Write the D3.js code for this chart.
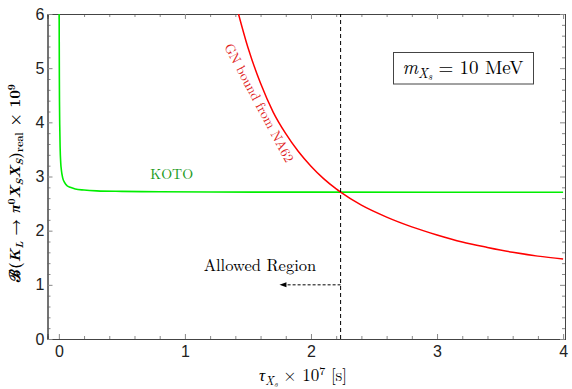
<!DOCTYPE html>
<html>
<head>
<meta charset="utf-8">
<script src="https://cdn.jsdelivr.net/npm/d3@7"></script>
<style>
  body { margin: 0; background: #fff; }
  svg { display: block; }
</style>
</head>
<body>
<svg id="chart" width="572" height="389"></svg>
<script>
// KOTO curve (tau in 1e-7 s, branching ratio x 1e9)
const kotoTau = [0.0025, 0.003, 0.004, 0.005, 0.007, 0.01, 0.015, 0.02, 0.03, 0.045, 0.065, 0.09, 0.13, 0.2, 0.3, 0.5, 0.8, 1.2, 2, 3, 4]
const kotoBr  = [6.0, 5.55, 4.85, 4.4, 3.95, 3.55, 3.25, 3.12, 2.98, 2.89, 2.83, 2.8, 2.77, 2.75, 2.735, 2.725, 2.718, 2.714, 2.711, 2.71, 2.71]

// GN bound from NA62
const naTau = [1.425, 1.5, 1.6, 1.7, 1.8, 1.9, 2.0, 2.1, 2.2, 2.235, 2.4, 2.6, 2.8, 3.0, 3.2, 3.4, 3.6, 3.8, 4.0]
const naBr  = [6.0, 5.38, 4.72, 4.19, 3.79, 3.46, 3.19, 2.96, 2.77, 2.71, 2.47, 2.25, 2.07, 1.92, 1.79, 1.69, 1.60, 1.53, 1.475]

const xTicks = [0, 1, 2, 3, 4]
const yTicks = [0, 1, 2, 3, 4, 5, 6]
const tauCross = 2.235
const arrowTip = 1.75
const arrowLevel = 1.0

const mLeft = 47.5, mRight = 565, mTop = 14, mBottom = 339

const x = d3.scaleLinear().domain([-0.09, 4.015]).range([mLeft, mRight])
const y = d3.scaleLinear().domain([0, 6]).range([mBottom, mTop])

const svg = d3.select('#chart')

svg.append('clipPath').attr('id', 'clip')
  .append('rect')
  .attr('x', mLeft).attr('y', mTop)
  .attr('width', mRight - mLeft).attr('height', mBottom - mTop)

const xMinor = d3.range(0, 4.01, 0.2).filter(v => Math.abs(v - Math.round(v)) > 1e-6)
const yMinor = d3.range(0, 6.01, 0.2).filter(v => Math.abs(v - Math.round(v)) > 1e-6)

function frameAxis(axis, tx, ty) {
  const g = svg.append('g').attr('transform', `translate(${tx},${ty})`).call(axis)
  g.select('.domain').attr('stroke', '#444')
  g.selectAll('.tick line').attr('stroke', '#888')
  g.selectAll('.tick text')
    .attr('font-family', '"Liberation Sans", Arial, sans-serif')
    .attr('font-size', 16)
    .attr('fill', '#222')
  return g
}

// minor ticks
frameAxis(d3.axisBottom(x).tickValues(xMinor).tickSize(-3).tickFormat(''), 0, mBottom)
frameAxis(d3.axisTop(x).tickValues(xMinor).tickSize(-3).tickFormat(''), 0, mTop)
frameAxis(d3.axisLeft(y).tickValues(yMinor).tickSize(-3).tickFormat(''), mLeft, 0)
frameAxis(d3.axisRight(y).tickValues(yMinor).tickSize(-3).tickFormat(''), mRight, 0)

// major ticks
frameAxis(d3.axisBottom(x).tickValues(xTicks).tickSize(-5).tickPadding(7).tickFormat(d3.format('d')), 0, mBottom)
frameAxis(d3.axisTop(x).tickValues(xTicks).tickSize(-5).tickFormat(''), 0, mTop)
frameAxis(d3.axisLeft(y).tickValues(yTicks).tickSize(-5).tickPadding(3).tickFormat(d3.format('d')), mLeft, 0)
frameAxis(d3.axisRight(y).tickValues(yTicks).tickSize(-5).tickFormat(''), mRight, 0)

const line = d3.line()
  .x(d => x(d[0]))
  .y(d => y(d[1]))
  .curve(d3.curveMonotoneX)

const plot = svg.append('g').attr('clip-path', 'url(#clip)')

plot.append('path')
  .datum(kotoTau.map((t, i) => [t, kotoBr[i]]))
  .attr('d', line)
  .attr('fill', 'none')
  .attr('stroke', '#00ee00')
  .attr('stroke-width', 1.6)

plot.append('path')
  .datum(naTau.map((t, i) => [t, naBr[i]]))
  .attr('d', line)
  .attr('fill', 'none')
  .attr('stroke', '#ff0000')
  .attr('stroke-width', 1.5)

// dashed vertical line at the crossing
plot.append('line')
  .attr('x1', x(tauCross)).attr('x2', x(tauCross))
  .attr('y1', y(0)).attr('y2', y(6))
  .attr('stroke', '#000')
  .attr('stroke-width', 1)
  .attr('stroke-dasharray', '4,3')

// allowed region arrow
svg.append('line')
  .attr('x1', x(tauCross)).attr('x2', x(arrowTip) + 5)
  .attr('y1', y(arrowLevel)).attr('y2', y(arrowLevel))
  .attr('stroke', '#000')
  .attr('stroke-width', 1)
  .attr('stroke-dasharray', '3,2')

svg.append('path')
  .attr('d', `M${x(arrowTip)},${y(arrowLevel)} l7,-2.5 l0,5 z`)
  .attr('fill', '#000')

const serif = '"Latin Modern Roman", "CMU Serif", "Liberation Serif", "DejaVu Serif", serif'

// math-ish text built from tspans: [text, italic, offset, size]
function mathText(g, parts) {
  let prev = 0
  parts.forEach(p => {
    const off = p[2] || 0
    g.append('tspan')
      .attr('dy', off - prev)
      .attr('font-style', p[1] ? 'italic' : 'normal')
      .attr('font-size', p[3] || null)
      .text(p[0])
    prev = off
  })
}

svg.append('text')
  .attr('x', x(1.595)).attr('y', y(1.255))
  .attr('text-anchor', 'middle')
  .attr('font-family', serif)
  .attr('font-size', 16.5)
  .text('Allowed Region')

svg.append('text')
  .attr('x', x(0.895)).attr('y', y(2.95))
  .attr('text-anchor', 'middle')
  .attr('font-family', serif)
  .attr('font-size', 14)
  .attr('fill', '#1a9a1a')
  .text('KOTO')

svg.append('text')
  .attr('transform', `translate(${x(1.556)},${y(4.32)}) rotate(62)`)
  .attr('text-anchor', 'middle')
  .attr('font-family', serif)
  .attr('font-size', 13.5)
  .attr('fill', '#e02020')
  .text('GN bound from NA62')

// mass box
svg.append('rect')
  .attr('x', 393.5).attr('y', 52.5)
  .attr('width', 140).attr('height', 31.5)
  .attr('fill', '#fff')
  .attr('stroke', '#444')

const massLabel = svg.append('text')
  .attr('x', 463).attr('y', 74)
  .attr('text-anchor', 'middle')
  .attr('font-family', serif)
  .attr('font-size', 19)
mathText(massLabel, [
  ['m', true, 0],
  ['X', true, 3.5, 13.5],
  ['s', true, 6, 10],
  [' = 10 MeV', false, 0]
])

// x axis label
const xLabel = svg.append('text')
  .attr('x', 303).attr('y', 381)
  .attr('text-anchor', 'middle')
  .attr('font-family', serif)
  .attr('font-size', 17)
mathText(xLabel, [
  ['τ', true, 0],
  ['X', true, 3.5, 12],
  ['s', true, 6, 9],
  [' × 10', false, 0],
  ['7', false, -6, 12],
  [' [s]', false, 0]
])

// y axis label
const yLabel = svg.append('text')
  .attr('transform', 'translate(20,183) rotate(-90)')
  .attr('text-anchor', 'middle')
  .attr('font-family', serif)
  .attr('font-size', 15)
  .attr('font-weight', 'bold')
mathText(yLabel, [
  ['ℬ(', false, 0],
  ['K', true, 0],
  ['L', true, 3, 10.5],
  [' → ', false, 0],
  ['π', true, 0],
  ['0', false, -5.5, 10.5],
  ['X', true, 0],
  ['S', true, 3, 10.5],
  ['X', true, 0],
  ['S', true, 3, 10.5],
  [')', false, 0],
  ['real', false, 3, 10.5],
  [' × 10', false, 0],
  ['9', false, -5.5, 10.5]
])
</script>
</body>
</html>
